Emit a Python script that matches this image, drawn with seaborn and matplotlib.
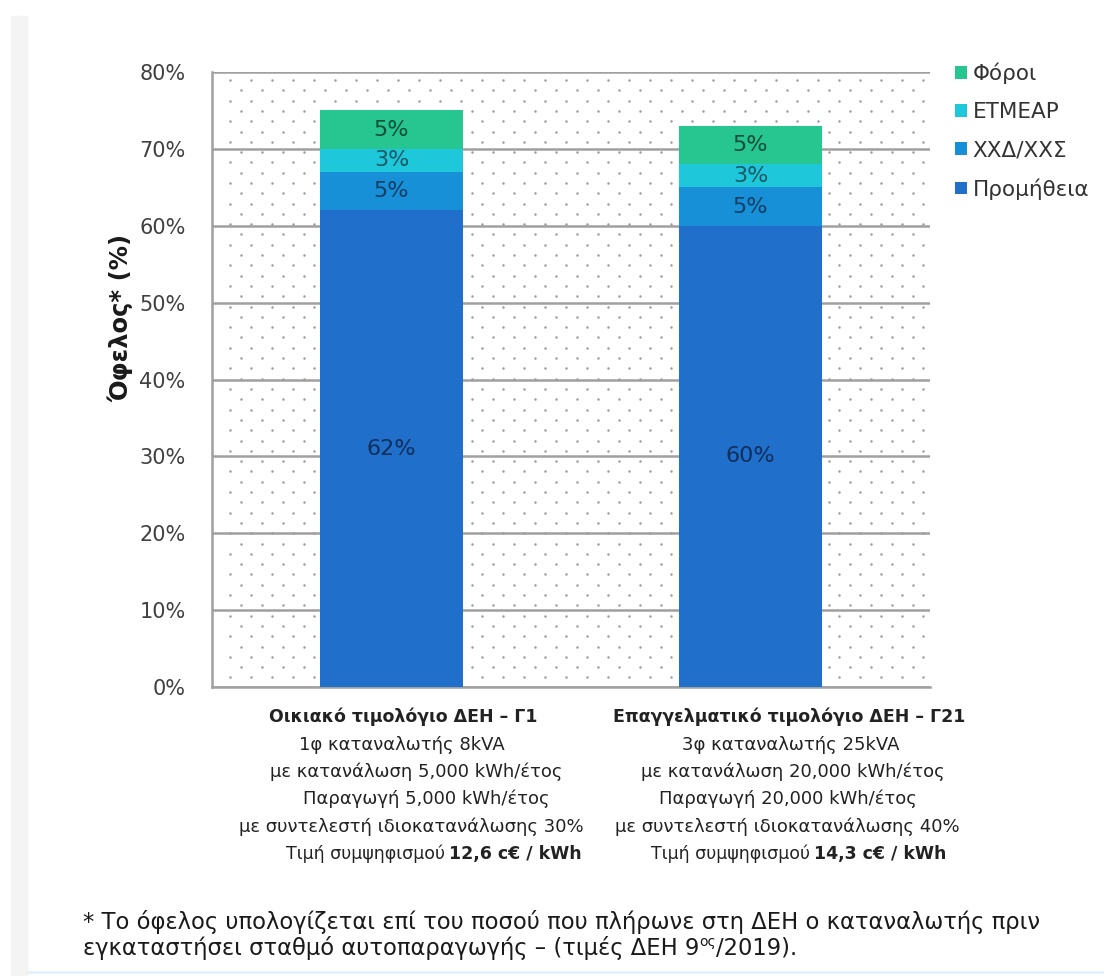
import numpy as np
import pandas as pd
import matplotlib
matplotlib.use("Agg")
import matplotlib.pyplot as plt
from matplotlib.patches import Patch, Rectangle
from matplotlib.lines import Line2D
import seaborn as sns

# ---- data ----
codes = ["Γ1", "Γ21"]
components = ["Προμήθεια", "ΧΧΔ/ΧΧΣ", "ΕΤΜΕΑΡ", "Φόροι"]
promitheia = [62, 60]
xxd_xxs = [5, 5]
etmear = [3, 3]
foroi = [5, 5]
yticks = [0, 10, 20, 30, 40, 50, 60, 70, 80]
ytick_labels = ["0%", "10%", "20%", "30%", "40%", "50%", "60%", "70%", "80%"]

titles = ["Οικιακό τιμολόγιο ΔΕΗ – Γ1", "Επαγγελματικό τιμολόγιο ΔΕΗ – Γ21"]
details = [
    ["1φ καταναλωτής 8kVA",
     "με κατανάλωση 5,000 kWh/έτος",
     "Παραγωγή 5,000 kWh/έτος",
     "με συντελεστή ιδιοκατανάλωσης 30%"],
    ["3φ καταναλωτής 25kVA",
     "με κατανάλωση 20,000 kWh/έτος",
     "Παραγωγή 20,000 kWh/έτος",
     "με συντελεστή ιδιοκατανάλωσης 40%"],
]
price_prefix = "Τιμή συμψηφισμού"
prices = ["12,6 c€ / kWh", "14,3 c€ / kWh"]
footnote_1 = "* Το όφελος υπολογίζεται επί του ποσού που πλήρωνε στη ΔΕΗ ο καταναλωτής πριν"
footnote_2 = "εγκαταστήσει σταθμό αυτοπαραγωγής – (τιμές ΔΕΗ 9"
footnote_sup = "ος"
footnote_end = "/2019)."

colors = ["#1f6fcb", "#1890d8", "#1ec8da", "#27c58f"]
label_colors = ["#0f2f5c", "#0d3f66", "#175a66", "#0e4f3a"]

sns.set_theme(style="white")
plt.rcParams["font.family"] = ["DejaVu Sans"]

W, H = 1104, 976
fig = plt.figure(figsize=(W / 100, H / 100), dpi=100)
fig.patch.set_facecolor("white")

# page edge decoration
fig.patches.append(Rectangle((11 / W, 0), 16 / W, (H - 16) / H,
                             transform=fig.transFigure, color="#f4f4f4", zorder=0))
fig.lines.append(Line2D([27 / W, 1], [1 - 972 / H, 1 - 972 / H],
                        transform=fig.transFigure, color="#e3f1fa", lw=2))

ax_l, ax_t, ax_r, ax_b = 212, 72, 930, 687
ax = fig.add_axes([ax_l / W, 1 - ax_b / H, (ax_r - ax_l) / W, (ax_b - ax_t) / H])
ax.set_facecolor("white")

# dotted background
aw, ah = ax_r - ax_l, ax_b - ax_t
pts_x, pts_y = [], []
for i, yy in enumerate(np.arange(8, ah, 10.3)):
    xs = np.arange(18 + (i % 2) * 10.5, aw, 21)
    pts_x.extend(xs / aw)
    pts_y.extend([1 - yy / ah] * len(xs))
ax.scatter(pts_x, pts_y, s=3.2, color="#9c9c9c", transform=ax.transAxes,
           zorder=1, linewidths=0)

# stacked bars drawn as overlapping cumulative layers
layers = np.array([promitheia, xxd_xxs, etmear, foroi], dtype=float)
cum = np.cumsum(layers, axis=0)
for i in range(len(components) - 1, -1, -1):
    df = pd.DataFrame({"code": codes, "value": cum[i]})
    sns.barplot(data=df, x="code", y="value", color=colors[i], saturation=1,
                width=0.4, ax=ax, zorder=3, edgecolor="none", linewidth=0)

# value labels inside segments
for i in range(len(components)):
    for j in range(len(codes)):
        mid = cum[i, j] - layers[i, j] / 2
        ax.text(j, mid, f"{int(layers[i, j])}%", ha="center", va="center",
                fontsize=16, color=label_colors[i], zorder=5)

ax.set_ylim(0, 80)
ax.set_xlim(-0.5, 1.5)
ax.set_yticks(yticks)
ax.set_yticklabels(ytick_labels, fontsize=15, color="#404040")
ax.set_xticks([])
ax.set_xlabel("")
ax.set_ylabel("")
ax.yaxis.grid(True, color="#a0a0a0", lw=1.8, zorder=2)
ax.set_axisbelow(True)
ax.tick_params(axis="y", length=5, width=1.5, color="#9a9a9a", direction="out", pad=14)
for s in ["top", "right"]:
    ax.spines[s].set_visible(False)
for s in ["left", "bottom"]:
    ax.spines[s].set_color("#a0a0a0")
    ax.spines[s].set_linewidth(1.8)

fig.text(121 / W, 1 - 318 / H, "Όφελος* (%)", rotation=90, ha="center", va="center",
         fontsize=17.5, fontweight="bold", color="#1a1a1a")

# legend
handles = [Patch(facecolor=colors[i], edgecolor="none", label=components[i])
           for i in range(len(components) - 1, -1, -1)]
fig.legend(handles=handles, loc="upper left", bbox_to_anchor=(936 / W, 1 - 43 / H),
           frameon=False, fontsize=15.5, handlelength=0.55, handleheight=0.55,
           handletextpad=0.25, labelspacing=0.84, labelcolor="#333333")

renderer = fig.canvas.get_renderer()


def mixed_line(parts, xc, y, gap=5):
    """Draw a centred line made of several differently styled pieces."""
    texts = []
    for s, kw in parts:
        t = fig.text(0, 1 - y / H, s, va="center", ha="left", **kw)
        texts.append(t)
    widths = [t.get_window_extent(renderer).width for t in texts]
    total = sum(widths) + gap * (len(texts) - 1)
    x = xc - total / 2
    for t, w in zip(texts, widths):
        t.set_x(x / W)
        x += w + gap
    return texts


# category descriptions below the bars
line_x = [[403, 402, 416, 426, 411, 434],
          [789, 791, 793, 788, 787, 799]]
line_y = [717, 745, 772, 799, 827, 854]
txt_kw = dict(fontsize=13, color="#222222")
price_kw = dict(fontsize=12.5, color="#222222")
bold_kw = dict(fontsize=12.5, color="#222222", fontweight="bold")
for j in range(len(codes)):
    fig.text(line_x[j][0] / W, 1 - line_y[0] / H, titles[j], ha="center", va="center",
             fontsize=12.5, fontweight="bold", color="#222222")
    for k, line in enumerate(details[j]):
        fig.text(line_x[j][k + 1] / W, 1 - line_y[k + 1] / H, line, ha="center",
                 va="center", **txt_kw)
    mixed_line([(price_prefix, price_kw), (prices[j], bold_kw)],
               line_x[j][5], line_y[5], gap=4)

# footnote
fn_kw = dict(fontsize=16.3, color="#1a1a1a")
fig.text(83 / W, 1 - 922 / H, footnote_1, ha="left", va="center", **fn_kw)
t_a = fig.text(83 / W, 1 - 948 / H, footnote_2, ha="left", va="center", **fn_kw)
wa = t_a.get_window_extent(renderer).width
t_b = fig.text((83 + wa) / W, 1 - 942 / H, footnote_sup, ha="left", va="center",
               fontsize=10, color="#1a1a1a")
wb = t_b.get_window_extent(renderer).width
fig.text((83 + wa + wb) / W, 1 - 948 / H, footnote_end, ha="left", va="center", **fn_kw)

fig.savefig("out.png", dpi=100)
